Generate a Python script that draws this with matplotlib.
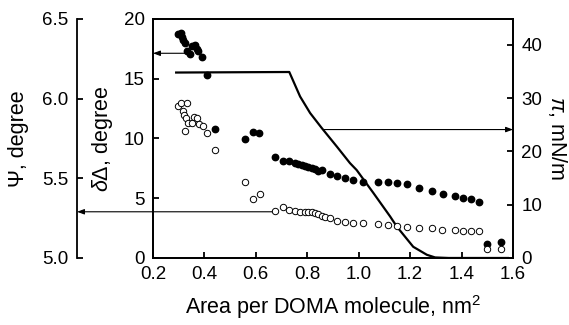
import matplotlib
matplotlib.use("Agg")
import matplotlib.pyplot as plt

plt.rcParams["font.family"] = ["Liberation Sans", "DejaVu Sans"]
plt.rcParams["mathtext.fontset"] = "custom"
plt.rcParams["mathtext.rm"] = "Liberation Sans"
plt.rcParams["mathtext.it"] = "Liberation Sans:italic"
plt.rcParams["mathtext.bf"] = "Liberation Sans:bold"

# filled circles -> inner left axis (delta Delta, degree)
area_dd = [0.298, 0.308, 0.312, 0.318, 0.324, 0.331, 0.344, 0.350, 0.363, 0.370,
           0.376, 0.389, 0.409, 0.441, 0.558, 0.588, 0.613, 0.675, 0.704, 0.730,
           0.752, 0.765, 0.778, 0.791, 0.804, 0.817, 0.830, 0.843, 0.856, 0.888,
           0.914, 0.947, 0.979, 1.018, 1.076, 1.115, 1.148, 1.189, 1.233, 1.284,
           1.326, 1.373, 1.406, 1.436, 1.467, 1.500, 1.555]
delta_dd = [18.74, 18.86, 18.5, 18.2, 17.96, 17.3, 17.1, 17.7, 17.8, 17.5,
            17.3, 16.85, 15.3, 10.77, 9.98, 10.54, 10.43, 8.48, 8.12, 8.12,
            7.98, 7.87, 7.78, 7.73, 7.64, 7.56, 7.45, 7.28, 7.36, 7.00,
            6.86, 6.67, 6.53, 6.33, 6.33, 6.36, 6.28, 6.17, 5.82, 5.60,
            5.33, 5.15, 5.06, 4.96, 4.71, 1.15, 1.30]

# open circles -> outer left axis (Psi, degree)
area_psi = [0.298, 0.308, 0.315, 0.320, 0.324, 0.328, 0.331, 0.337, 0.350, 0.361,
            0.372, 0.380, 0.396, 0.409, 0.441, 0.558, 0.588, 0.616, 0.675, 0.707,
            0.730, 0.752, 0.772, 0.791, 0.804, 0.817, 0.830, 0.843, 0.856, 0.869,
            0.888, 0.914, 0.947, 0.979, 1.018, 1.076, 1.115, 1.148, 1.189, 1.233,
            1.284, 1.323, 1.375, 1.407, 1.436, 1.466, 1.500, 1.555]
psi = [5.954, 5.975, 5.925, 5.898, 5.799, 5.877, 5.971, 5.849, 5.849, 5.883,
       5.881, 5.839, 5.831, 5.783, 5.678, 5.475, 5.368, 5.400, 5.295, 5.318,
       5.301, 5.295, 5.291, 5.291, 5.291, 5.287, 5.281, 5.276, 5.264, 5.255,
       5.249, 5.234, 5.228, 5.222, 5.218, 5.213, 5.207, 5.200, 5.192, 5.186,
       5.186, 5.176, 5.176, 5.170, 5.170, 5.170, 5.055, 5.055]

# surface pressure isotherm -> right axis (pi, mN/m)
area_pi = [0.29, 0.50, 0.73, 0.772, 0.811, 0.856, 0.915, 0.966, 0.992, 1.057,
           1.122, 1.148, 1.212, 1.265, 1.297, 1.35, 1.58]
pi_vals = [34.8, 34.85, 34.9, 30.3, 27.2, 24.4, 20.9, 17.8, 16.5, 12.2,
           7.8, 5.9, 2.1, 0.6, 0.1, 0.0, 0.0]

x_ticks = [0.2, 0.4, 0.6, 0.8, 1.0, 1.2, 1.4, 1.6]
dd_ticks = [0, 5, 10, 15, 20]
psi_ticks = [5.0, 5.5, 6.0, 6.5]
pi_ticks = [0, 10, 20, 30, 40]

TICK_FS = 13.5
LABEL_FS = 15.5
LW = 1.3

fig = plt.figure(figsize=(5.69, 3.25), dpi=100)
ax = fig.add_axes([0.2689, 0.2062, 0.6327, 0.7354])
ax_pi = ax.twinx()
ax_psi = ax.twinx()

ax.set_xlim(0.2, 1.6)
ax.set_ylim(0, 20)
ax_pi.set_ylim(0, 44.85)
ax_psi.set_ylim(5.0, 6.5)

# outer Psi axis sits to the left of the main box
ax_psi.spines["left"].set_position(("axes", -0.211))
ax_psi.spines["left"].set_visible(True)
for s in ["right", "top", "bottom"]:
    ax_psi.spines[s].set_visible(False)
ax_psi.yaxis.set_ticks_position("left")
ax_psi.yaxis.set_label_position("left")

for a in (ax, ax_pi, ax_psi):
    for sp in a.spines.values():
        sp.set_linewidth(LW)
    a.tick_params(direction="in", length=4, width=LW, labelsize=TICK_FS, pad=6)
ax.tick_params(top=False, right=False)

ax.set_xticks(x_ticks)
ax.set_xticklabels([f"{t:.1f}" for t in x_ticks])
ax.set_yticks(dd_ticks)
ax_pi.set_yticks(pi_ticks)
ax_psi.set_yticks(psi_ticks)
ax_psi.set_yticklabels([f"{t:.1f}" for t in psi_ticks])

ax_pi.plot(area_pi, pi_vals, color="black", lw=1.6, zorder=2)
ax.plot(area_dd, delta_dd, "o", ms=4.6, color="black", zorder=3)
ax_psi.plot(area_psi, psi, "o", ms=4.6, mfc="white", mec="black", mew=0.7, zorder=3)

arrow = dict(arrowstyle="-|>,head_length=0.35,head_width=0.13",
             color="black", lw=0.8, mutation_scale=12, shrinkA=0, shrinkB=0)
ax.annotate("", xy=(0.2, 17.13), xytext=(0.332, 17.13),
            arrowprops=arrow, annotation_clip=False)
ax_pi.annotate("", xy=(1.6, 24.1), xytext=(0.862, 24.1),
               arrowprops=arrow, annotation_clip=False)
ax_psi.annotate("", xy=(-0.211, 5.29), xytext=(0.663, 5.29),
                xycoords=("axes fraction", "data"), textcoords="data",
                arrowprops=arrow, annotation_clip=False)

ax.set_xlabel("Area per DOMA molecule, nm$^2$", fontsize=LABEL_FS)
ax.set_ylabel(r"$\delta\Delta$, degree", fontsize=LABEL_FS)
ax_psi.set_ylabel("\u03a8, degree", fontsize=LABEL_FS)
ax_pi.set_ylabel(r"$\pi$, mN/m", fontsize=LABEL_FS, rotation=270, va="bottom")

ax.xaxis.set_label_coords(0.5, -0.146)
ax.yaxis.set_label_coords(-0.106, 0.5)
ax_psi.yaxis.set_label_coords(-0.344, 0.5)
ax_pi.yaxis.set_label_coords(1.092, 0.5)

fig.savefig("out.png", dpi=100)
